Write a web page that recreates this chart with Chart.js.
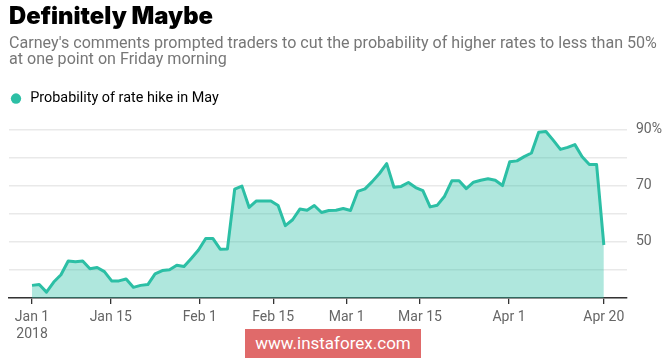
<!DOCTYPE html>
<html>
<head>
<meta charset="utf-8">
<script src="https://cdn.jsdelivr.net/npm/chart.js@4.4.1/dist/chart.umd.min.js"></script>
<style>
  html, body { margin: 0; padding: 0; background: #fff; }
  #wrap { position: relative; width: 665px; height: 360px; }
  #c { display: block; }
  #wm {
    position: absolute; left: 245px; top: 329px; width: 176px; height: 29px;
    background: #e06a6a; color: #fff; font: 17px Roboto, "Liberation Sans", sans-serif;
    line-height: 29px; text-align: center;
  }
</style>
</head>
<body>
<div id="wrap">
  <canvas id="c" width="665" height="360"></canvas>
  <div id="wm">www.instaforex.com</div>
</div>
<script>
// Probability of a May rate hike (%), one value per trading day, Jan 1 – Apr 20 2018
const probability = [
  34.5, 34.8, 32.1, 35.7, 38.3, 43.2, 42.9, 43.2, 40.4, 40.9,
  39.4, 36.1, 36.1, 36.8, 33.8, 34.5, 34.8, 38.6, 39.8, 40.1,
  41.7, 41.2, 44.1, 47.1, 51.2, 51.2, 47.4, 47.5, 68.8, 69.9,
  62.3, 64.6, 64.6, 64.6, 63.0, 55.8, 57.9, 61.7, 61.3, 63.0,
  60.5, 61.2, 61.3, 61.9, 61.2, 68.0, 68.9, 71.5, 74.4, 77.9,
  69.5, 69.8, 71.2, 69.4, 68.3, 62.5, 63.1, 66.3, 71.8, 71.8,
  69.0, 71.3, 72.0, 72.5, 72.0, 70.1, 78.6, 78.9, 80.4, 81.7,
  89.1, 89.4, 86.3, 83.0, 83.7, 84.7, 80.4, 77.6, 77.6, 48.9
];
// x tick labels and where they fall (in trading-day index units)
const xTickLabels = [['Jan 1', '2018'], 'Jan 15', 'Feb 1', 'Feb 15', 'Mar 1', 'Mar 15', 'Apr 1', 'Apr 20'];
const xTickAt = [0, 10.88, 23.19, 33.32, 43.47, 53.6, 65.9, 79];
// y gridlines and labels
const yTickValues = [30, 40, 50, 60, 70, 80, 90];
const yTickLabels = { 50: '50', 70: '70', 90: '90%' };

const seriesName = 'Probability of rate hike in May';
const TEAL = '#2cbfa5';
const FONT = 'Roboto, "Liberation Sans", sans-serif';

const points = probability.map((v, i) => ({ x: i, y: v }));

new Chart(document.getElementById('c'), {
  type: 'line',
  data: {
    datasets: [{
      label: seriesName,
      data: points,
      borderColor: TEAL,
      backgroundColor: 'rgba(44,191,165,0.38)',
      borderWidth: 3,
      fill: 'start',
      tension: 0,
      pointRadius: 0,
      pointHoverRadius: 0,
      borderJoinStyle: 'round',
      borderCapStyle: 'butt'
    }]
  },
  options: {
    responsive: false,
    animation: false,
    events: [],
    layout: { padding: { left: 9, right: 0, top: 0, bottom: 0 } },
    plugins: {
      title: {
        display: true,
        text: 'Definitely Maybe',
        align: 'start',
        color: '#000',
        font: { family: 'Inter, Roboto, sans-serif', size: 23.8, weight: 900, lineHeight: 1.2 },
        padding: { top: 2.4, bottom: 0 }
      },
      subtitle: {
        display: true,
        text: [
          "Carney's comments prompted traders to cut the probability of higher rates to less than 50%",
          'at one point on Friday morning'
        ],
        align: 'start',
        color: '#777',
        font: { family: FONT, size: 16.1, weight: 400, lineHeight: 1.03 },
        padding: { top: 4.3, bottom: 22.9 }
      },
      legend: {
        display: true,
        position: 'top',
        align: 'start',
        labels: {
          usePointStyle: true,
          pointStyle: 'circle',
          boxWidth: 14,
          boxHeight: 7.3,
          padding: 0,
          color: '#666',
          font: { family: FONT, size: 14.4 },
          generateLabels: (chart) => [{
            text: seriesName,
            fillStyle: TEAL,
            strokeStyle: TEAL,
            lineWidth: 0,
            pointStyle: 'circle',
            datasetIndex: 0,
            hidden: false
          }]
        }
      },
      tooltip: { enabled: false }
    },
    scales: {
      x: {
        type: 'linear',
        position: 'bottom',
        min: -3.18,
        max: 82.2,
        afterBuildTicks: (scale) => { scale.ticks = xTickAt.map(v => ({ value: v })); },
        afterFit: (scale) => { scale.height = 62; },
        grid: {
          display: true,
          drawOnChartArea: false,
          drawTicks: true,
          tickLength: 6,
          color: '#333',
          lineWidth: 1.3
        },
        border: { display: true, color: '#333', width: 1.5 },
        ticks: {
          autoSkip: false,
          maxRotation: 0,
          padding: 5,
          color: '#666',
          font: { family: FONT, size: 14, lineHeight: 1.2 },
          callback: (value, index) => xTickLabels[index]
        }
      },
      y: {
        type: 'linear',
        position: 'right',
        min: 30,
        max: 95,
        afterBuildTicks: (scale) => { scale.ticks = yTickValues.map(v => ({ value: v })); },
        afterFit: (scale) => { scale.width = 38; },
        grid: {
          display: true,
          drawTicks: false,
          color: '#e9e9e9',
          lineWidth: 1.5
        },
        border: { display: false },
        ticks: {
          padding: 9,
          crossAlign: 'near',
          color: '#666',
          font: { family: FONT, size: 14 },
          callback: (value) => yTickLabels[value] || ''
        }
      }
    }
  }
});
</script>
</body>
</html>
